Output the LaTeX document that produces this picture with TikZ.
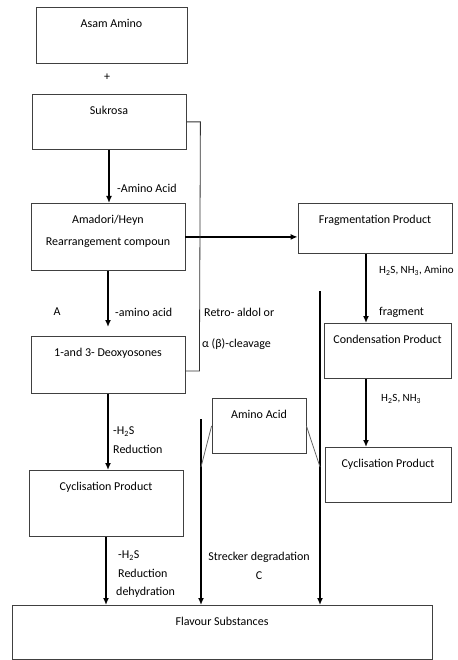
\documentclass[tikz,border=0pt]{standalone}
\usepackage{fontspec}
\setmainfont{Carlito}
\usetikzlibrary{arrows.meta}

\begin{document}
\begin{tikzpicture}[x=1pt,y=-1pt,
  font=\fontsize{12}{14}\selectfont,
  box/.style={draw=black!75,line width=0.8pt,anchor=north,inner xsep=2pt,inner ysep=4pt,text height=16pt,text depth=#1},
  flow/.style={-{Latex[length=7pt,width=6pt]},line width=1.5pt},
  link/.style={draw=black!80,line width=0.8pt},
  note/.style={inner sep=0pt}]
\useasboundingbox (0,0) rectangle (457,660);

% left column
\node[box=32pt,minimum width=151pt] (asam) at (111.5,7) {Asam Amino};
\node[note] (plus) at (107,77) {+};
\node[box=31pt,minimum width=154pt] (sukrosa) at (109,94) {Sukrosa};
\node[box=21pt,text height=38pt,minimum width=154pt,align=center,font=\fontsize{12}{22}\selectfont] (amadori) at (108,203) {Amadori/Heyn\\Rearrangement compoun};
\node[box=33pt,minimum width=154pt] (deoxy) at (108,336) {1-and 3- Deoxyosones};
\node[box=42pt,minimum width=154pt] (cyclL) at (106,470) {Cyclisation Product};
\node[box=30pt,minimum width=420pt] (flavour) at (222,605) {Flavour Substances};

% right column
\node[box=26pt,minimum width=154pt] (frag) at (375,203) {Fragmentation Product};
\node[box=31pt,minimum width=127pt] (cond) at (387.5,323) {Condensation Product};
\node[box=31pt,minimum width=126pt] (cyclR) at (388,447) {Cyclisation Product};
\node[box=31pt,minimum width=94pt] (amino) at (259,398) {Amino Acid};

% free ends
\coordinate (sleft) at (201,419);
\coordinate (sright) at (320,291);
\coordinate (kleft) at (201,467);
\coordinate (kright) at (320,467);

% arrows
\draw[flow] (sukrosa.south) -- (sukrosa.south |- amadori.north);
\draw[flow,shorten >=9pt] (amadori.south) -- (amadori.south |- deoxy.north);
\draw[flow] (deoxy.south) -- (deoxy.south |- cyclL.north);
\draw[flow] (cyclL.south) -- (cyclL.south |- flavour.north);
\draw[flow] (amadori.east) -- (amadori.east -| frag.west);
\draw[flow] ([xshift=-9pt]frag.south) -- ([xshift=-9pt]frag.south |- cond.north);
\draw[flow] (cond.south -| frag.south) ++(-9,0) -- ([xshift=-9pt]frag.south |- cyclR.north);
\foreach \Top in {sleft, sright}{
    \draw[flow] (\Top) -- (\Top |- flavour.north);
}

% side links
\draw[link] (sukrosa.east) -- ++(14,0) -- ([xshift=14pt,yshift=-6pt]deoxy.east) -- ([yshift=-6pt]deoxy.east);
\draw[link,draw=black!60] (amino.west) -- (kleft);
\draw[link,draw=black!60] (amino.east) -- (kright);

% labels
\node[note,anchor=west] (l1) at (117,188) {-Amino Acid};
\node[note] (la) at (57,312) {A};
\node[note,anchor=west] (l2) at (115,312) {-amino acid};
\node[note,anchor=west] (l3) at (204,312) {Retro- aldol or};
\node[note,anchor=west] (l4) at (202,344) {α (β)-cleavage};
\node[note,anchor=west,font=\fontsize{11}{13}\selectfont] (l5) at (379,271) {H\textsubscript{2}S, NH\textsubscript{3}, Amino};
\node[note,anchor=west] (l6) at (379,312) {fragment};
\node[note,anchor=west,font=\fontsize{11}{13}\selectfont] (l7) at (381,399) {H\textsubscript{2}S, NH\textsubscript{3}};
\node[note,anchor=west,align=left,font=\fontsize{12}{19}\selectfont] (l8) at (113,440.5) {-H\textsubscript{2}S\\Reduction};
\node[note,anchor=west,align=left,font=\fontsize{12}{18.5}\selectfont] (l9) at (116,574.5) {\,-H\textsubscript{2}S\\\,Reduction\\dehydration};
\node[note,align=center,font=\fontsize{12}{19}\selectfont] (l10) at (259,565.5) {Strecker degradation\\C};
\end{tikzpicture}
\end{document}
